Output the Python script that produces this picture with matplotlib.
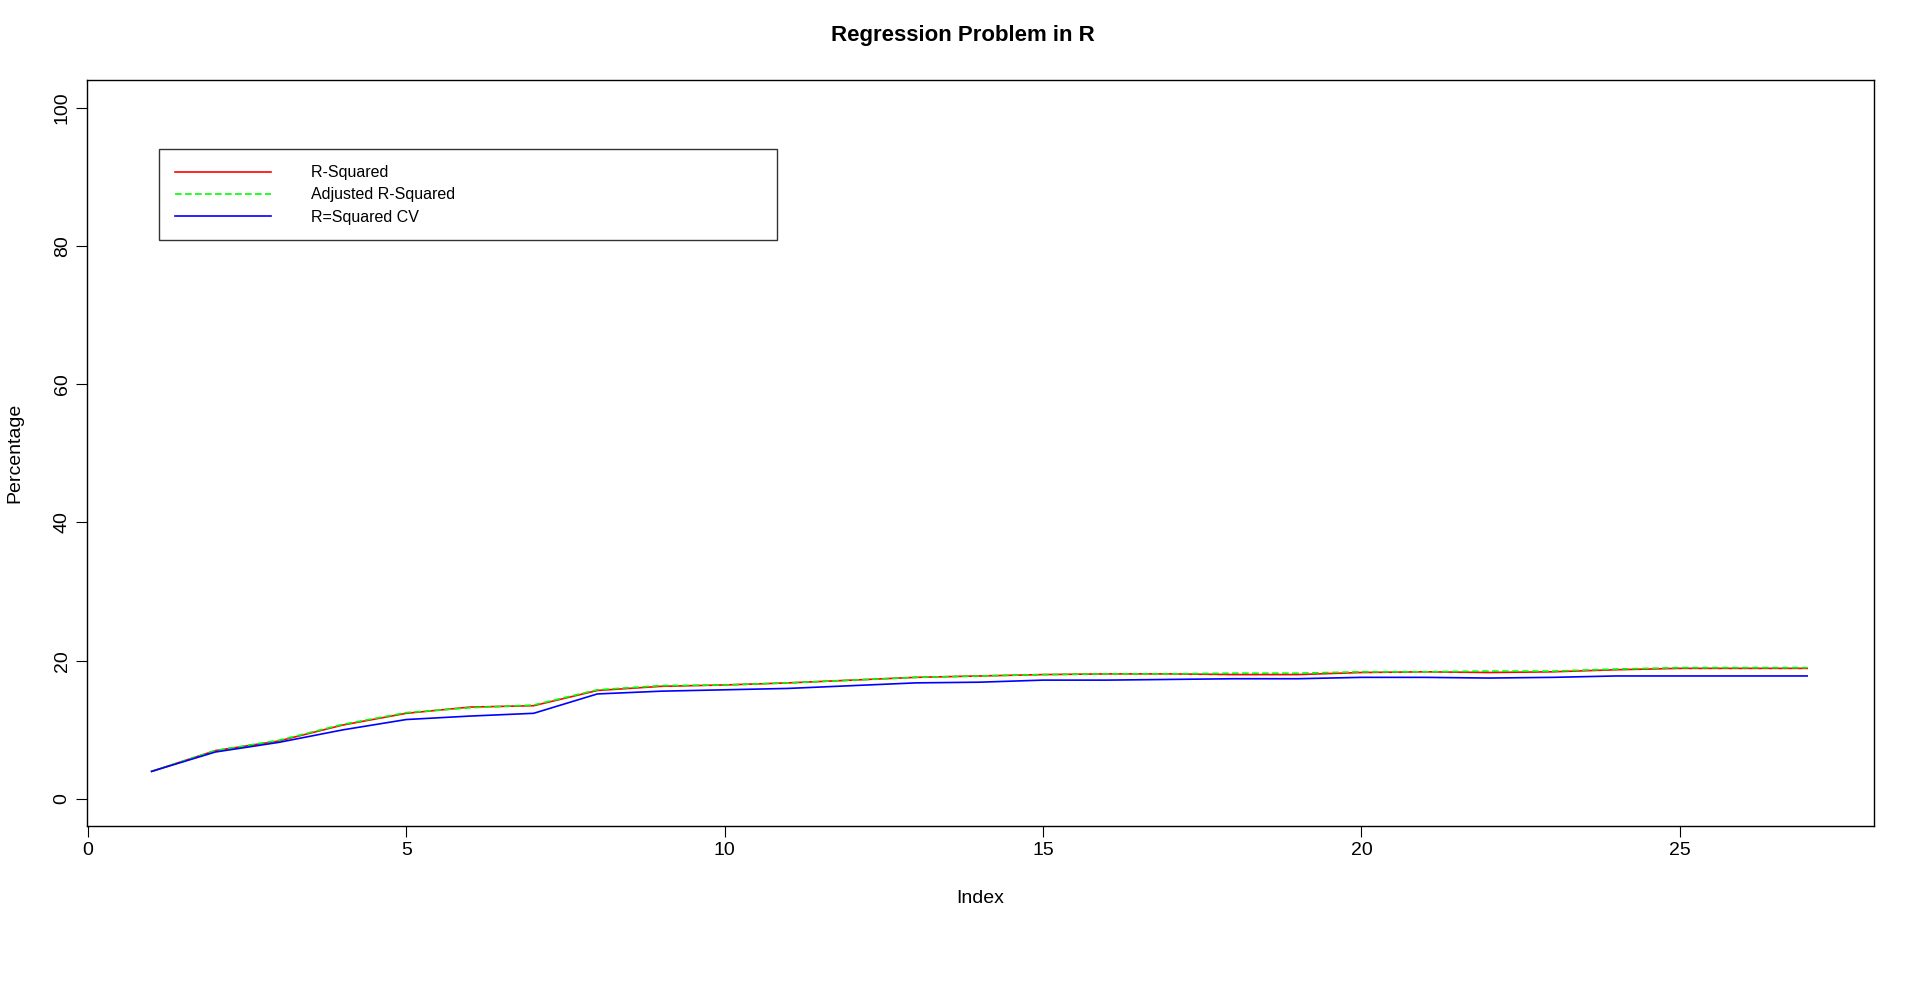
import matplotlib
matplotlib.use("Agg")
from matplotlib import pyplot as plt

plt.rcParams['font.family'] = ['Liberation Sans', 'DejaVu Sans']

# values
index = list(range(1, 28))
adj_r2 = [4.0, 7.0, 8.5, 10.8, 12.5, 13.2, 13.6, 15.8, 16.4, 16.5, 16.8, 17.2, 17.6, 17.8,
          18.0, 18.1, 18.1, 18.2, 18.2, 18.4, 18.4, 18.5, 18.5, 18.8, 19.0, 19.0, 19.0]
r2 = [4.0, 7.0, 8.4, 10.7, 12.4, 13.3, 13.5, 15.7, 16.3, 16.5, 16.8, 17.2, 17.6, 17.8,
      18.0, 18.1, 18.1, 18.0, 18.0, 18.3, 18.4, 18.3, 18.4, 18.7, 18.9, 18.9, 18.9]
r2_cv = [4.0, 6.8, 8.2, 10.0, 11.5, 12.0, 12.4, 15.2, 15.6, 15.8, 16.0, 16.4, 16.8, 16.9,
         17.2, 17.2, 17.3, 17.4, 17.4, 17.6, 17.6, 17.5, 17.6, 17.8, 17.8, 17.8, 17.8]

fig = plt.figure(figsize=(19.26, 10.0), dpi=100)
ax = fig.add_axes([0.045, 0.174, 0.928, 0.746])

ax.plot(index, r2, color="red", lw=1.2, label="R-Squared")
ax.plot(index, adj_r2, color="#00ff00", lw=1.2, ls="--", dashes=(4, 2), label="Adjusted R-Squared")
ax.plot(index, r2_cv, color="blue", lw=1.2, label="R=Squared CV")

ax.set_xlim(-0.02, 28.05)
ax.set_ylim(-3.9, 104)
ax.set_xticks([0, 5, 10, 15, 20, 25])
ax.set_yticks([0, 20, 40, 60, 80, 100])
ax.tick_params(axis="y", labelrotation=90)
for lab in ax.get_yticklabels():
    lab.set_va("center")
ax.tick_params(labelsize=14, length=8)
for s in ax.spines.values():
    s.set_linewidth(1.0)

ax.set_xlabel("Index", fontsize=14, labelpad=22)
ax.set_ylabel("Percentage", fontsize=14, labelpad=22)
fig.suptitle("Regression Problem in R", fontsize=16, fontweight="bold", y=0.975)

leg = ax.legend(loc="upper left", bbox_to_anchor=(0.036, 0.918), fontsize=11.5,
                frameon=True, fancybox=False, edgecolor="black", handlelength=6,
                handletextpad=2.5, borderpad=1.0, labelspacing=0.45)
leg.get_frame().set_linewidth(1.0)
# widen legend box like R's
for t in leg.get_texts():
    t.set_text(t.get_text() + " " * 68)

fig.savefig("out.png", dpi=100)
